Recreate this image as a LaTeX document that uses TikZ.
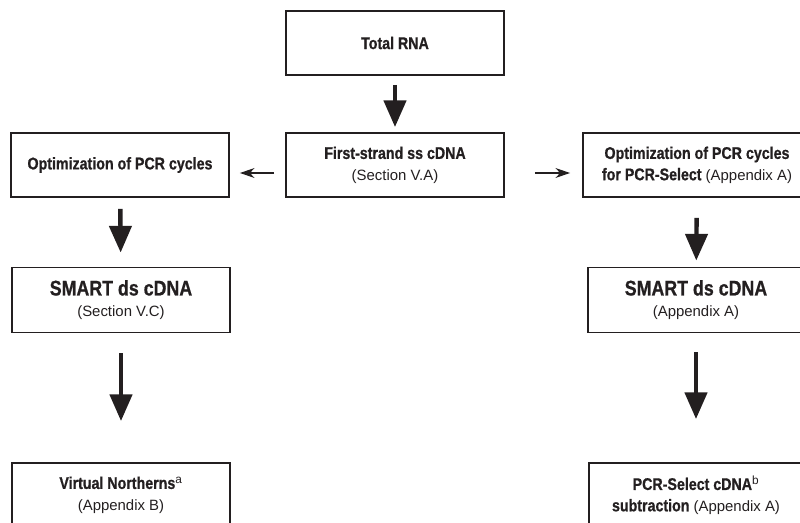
\documentclass[tikz,border=0pt]{standalone}
\usepackage{fontspec}
\setmainfont{Liberation Sans}[BoldFeatures={FakeStretch=0.84,FakeBold=0.8}]
\usetikzlibrary{arrows.meta}
\definecolor{ink}{HTML}{231F20}
\newcommand{\hd}[1]{{\fontsize{12.7}{16}\selectfont\bfseries #1}}
\newcommand{\hdbig}[1]{{\fontsize{15.9}{16}\selectfont\bfseries #1}}

\begin{document}
\begin{tikzpicture}[x=0.75pt,y=-0.75pt,ink,
    stage/.style={draw,line width=1.4pt,minimum width=163.5pt,minimum height=48pt,
        align=center,text=ink,font=\fontsize{11.2}{16}\selectfont},
    bigarrow/.style={line width=3.3pt,-{Triangle[length=20pt,width=16.5pt]}},
    thinarrow/.style={line width=0.8pt,-{Stealth[length=11pt,width=7.5pt]}}]
    \path[use as bounding box] (0,0) rectangle (800,523);
    \clip (0,0) rectangle (800,523);
    \node[stage] (rna) at (395,43) {\hd{Total RNA}};
    \node[stage] (sscdna) at (395,165) {\hd{First-strand ss cDNA}\\(Section V.A)};
    \node[stage] (optl) at (120,165) {\hd{Optimization of PCR cycles}};
    \node[stage,minimum width=171pt] (optr) at (697,165)
        {\hd{Optimization of PCR cycles}\\\hd{for PCR-Select} (Appendix A)};
    \node[stage,minimum height=48.75pt] (smartl) at (121,300) {\hdbig{SMART ds cDNA}\\(Section V.C)};
    \node[stage,minimum width=162pt,minimum height=48.75pt] (smartr) at (696,300)
        {\hdbig{SMART ds cDNA}\\(Appendix A)};
    \node[stage] (vnorth) at (121,495) {\hd{Virtual Northerns\textsuperscript{\mdseries a}}\\(Appendix B)};
    \node[stage,minimum width=160.5pt] (select) at (696,495)
        {\hd{PCR-Select cDNA\textsuperscript{\mdseries b}}\\\hd{subtraction} (Appendix A)};
    \draw[bigarrow,shorten <=6.75pt,shorten >=3.75pt] (rna) -- (sscdna);
    \draw[bigarrow,shorten <=8.25pt,shorten >=10.5pt] (optl) -- (smartl);
    \draw[bigarrow,shorten <=15pt,shorten >=30.75pt] (smartl) -- (vnorth);
    \draw[bigarrow,shorten <=15pt,shorten >=4.5pt] (optr) -- (smartr);
    \draw[bigarrow,shorten <=14.25pt,shorten >=32.25pt] (smartr) -- (select);
    \draw[thinarrow,shorten <=8.25pt,shorten >=7.5pt] ([yshift=-6pt]sscdna.west) -- ([yshift=-6pt]optl.east);
    \draw[thinarrow,shorten <=22.5pt,shorten >=9pt] ([yshift=-6pt]sscdna.east) -- ([yshift=-6pt]optr.west);
\end{tikzpicture}
\end{document}
